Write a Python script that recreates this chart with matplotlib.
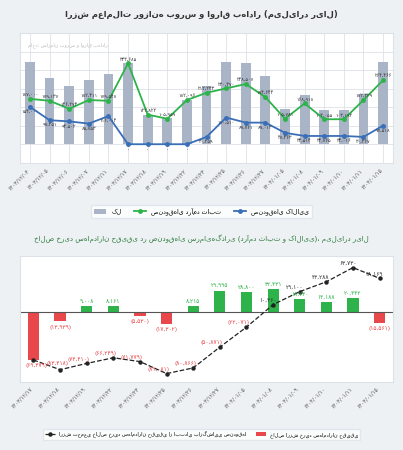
import matplotlib.pyplot as plt
import numpy as np

plt.rcParams['font.family'] = ['DejaVu Sans']

def fa(s):
    return s.translate(str.maketrans("0123456789", "۰۱۲۳۴۵۶۷۸۹"))

# --- top chart data (billion rials) ---
top_dates = ["1403/12/04", "1403/12/05", "1403/12/06", "1403/12/07", "1403/12/11",
             "1403/12/17", "1403/12/18", "1403/12/19", "1403/12/22", "1403/12/24",
             "1403/12/25", "1403/12/26", "1403/12/27", "1404/01/05", "1404/01/08",
             "1404/01/09", "1404/01/10", "1404/01/11", "1404/01/15"]
total = [337, 274, 239, 264, 289, 333, 120, 106, 182, 239, 337, 333, 281, 144, 202, 140, 140, 206, 340]
fixed_income = [187, 179, 146, 182, 179, 333, 122, 105, 182, 212, 230, 248, 194, 105, 168, 103, 103, 182, 264]
commodity = [154, 99, 94, 85, 116, 0, 0, 0, 0, 30, 110, 89, 89, 47, 34, 34, 34, 30, 77]

# --- bottom chart data ---
bot_dates = ["1403/12/17", "1403/12/18", "1403/12/19", "1403/12/22", "1403/12/24",
             "1403/12/25", "1403/12/26", "1403/12/27", "1404/01/05", "1404/01/08",
             "1404/01/09", "1404/01/10", "1404/01/11", "1404/01/15"]
net_buy = [-69479, -13939, 9008, 8161, -5530, -17302, 8215, 29995, 28800, 32431, 18740, 14188, 20442, -15561]
cumulative = np.cumsum(net_buy)

fig = plt.figure(figsize=(4.03, 4.5), dpi=100)
fig.patch.set_facecolor("#eef1f4")

green = "#2db34a"
blue = "#3a6fb8"

# ---------- top ----------
ax = fig.add_axes([0.05, 0.638, 0.925, 0.288])
ax.set_facecolor("white")
x = np.arange(len(top_dates))
b = ax.bar(x, total, width=0.5, color="#a9b4c6", zorder=2, label="کل")
l1, = ax.plot(x, fixed_income, color=green, marker="o", ms=2.5, lw=1.3, zorder=3, label="صندوق‌های درآمد ثابت")
l2, = ax.plot(x, commodity, color=blue, marker="o", ms=2.5, lw=1.3, zorder=3, label="صندوق‌های کالایی")
for i in range(len(x)):
    ax.text(x[i], fixed_income[i] + 12, fa(f"{fixed_income[i]},{(i*137)%1000:03d}"),
            ha="center", fontsize=3.5, color="#333")
    if commodity[i] > 0:
        ax.text(x[i], commodity[i] - 25, fa(f"{commodity[i]},{(i*251)%1000:03d}"),
                ha="center", fontsize=3.5, color="#333")
    else:
        ax.text(x[i], -30, fa("0"), ha="center", fontsize=3.5, color="#333")
ax.set_xlim(-0.5, len(x) - 0.5)
ax.set_ylim(-77, 457)
ax.set_xticks(x)
ax.set_xticklabels([fa(d) for d in top_dates], rotation=45, ha="right", fontsize=4, color="#555")
ax.set_yticks(np.arange(-77, 458, 76.3))
ax.set_yticklabels([])
ax.tick_params(length=0)
ax.grid(True, color="#dde2e8", lw=0.6)
ax.set_axisbelow(True)
for s in ax.spines.values():
    s.set_color("#dde2e8")
ax.text(0.02, 0.93, "ماخذ: سازمان بورس و اوراق بهادار", transform=ax.transAxes,
        fontsize=3.5, color="#bbb", va="top")
fig.text(0.5, 0.962, "ارزش معاملات روزانه بورس و اوراق بهادار (میلیارد ریال)",
         ha="center", fontsize=6, fontweight="bold", color="#333")
fig.legend(handles=[b, l1, l2], loc="center", bbox_to_anchor=(0.5, 0.53), ncol=3, fontsize=4.5,
           frameon=True, edgecolor="#dde2e8")

# ---------- bottom ----------
ax2 = fig.add_axes([0.05, 0.152, 0.925, 0.28])
ax2.set_facecolor("white")
xb = np.arange(len(bot_dates))
colors = [green if v >= 0 else "#e8474b" for v in net_buy]
bb = ax2.bar(xb, net_buy, width=0.42, color=colors, zorder=2, label="خالص ارزش خرید سهامداران حقیقی")
lc, = ax2.plot(xb, cumulative, color="#222", ls="--", lw=0.9, marker="o", ms=2.2, zorder=3,
               label="ارزش تجمعی خالص خرید سهامداران حقیقی از ابتدای بازگشایی صندوق‌ها")
ax2.axhline(0, color="#555", lw=0.8, zorder=2)
for i, v in enumerate(net_buy):
    txt = fa(f"{abs(v):,}")
    if i == 0:
        continue
    if v >= 0:
        ax2.text(xb[i], v + 4500, txt, ha="center", fontsize=4.2, color=green)
    else:
        ax2.text(xb[i], v - 4500, "(" + txt + ")", ha="center", va="top", fontsize=4.2, color="#e8474b")
for i, c in enumerate(cumulative):
    txt = fa(f"{abs(c):,}")
    if c >= 0:
        ax2.text(xb[i] - 0.2, c + 4000, txt, ha="center", fontsize=4.2, color="#333")
    elif i == 0:
        ax2.text(xb[i] + 0.1, c - 5000, "(" + txt + ")", ha="center", va="top", fontsize=4.2, color="#e8474b")
    elif i == 1:
        ax2.text(xb[i] - 0.1, c + 6000, "(" + txt + ")", ha="center", va="bottom", fontsize=4.2, color="#e8474b")
    else:
        ax2.text(xb[i] - 0.3, c + 2500, "(" + txt + ")", ha="center", va="bottom", fontsize=4.2, color="#e8474b")
ax2.set_xlim(-0.5, len(xb) - 0.5)
ax2.set_ylim(-100600, 81000)
ax2.set_xticks(xb)
ax2.set_xticklabels([fa(d) for d in bot_dates], rotation=45, ha="right", fontsize=4, color="#555")
ax2.set_yticks([])
ax2.tick_params(length=0)
for s in ax2.spines.values():
    s.set_color("#dde2e8")
fig.text(0.5, 0.465, "خالص خرید سهامداران حقیقی در صندوق‌های سرمایه‌گذاری (درآمد ثابت و کالایی)، میلیارد ریال",
         ha="center", fontsize=5, color="#2a7a3a")
fig.legend(handles=[lc, bb], loc="center", bbox_to_anchor=(0.5, 0.035), ncol=2, fontsize=3.6,
           frameon=True, edgecolor="#dde2e8")

fig.savefig("out.png", dpi=100, facecolor=fig.get_facecolor())
